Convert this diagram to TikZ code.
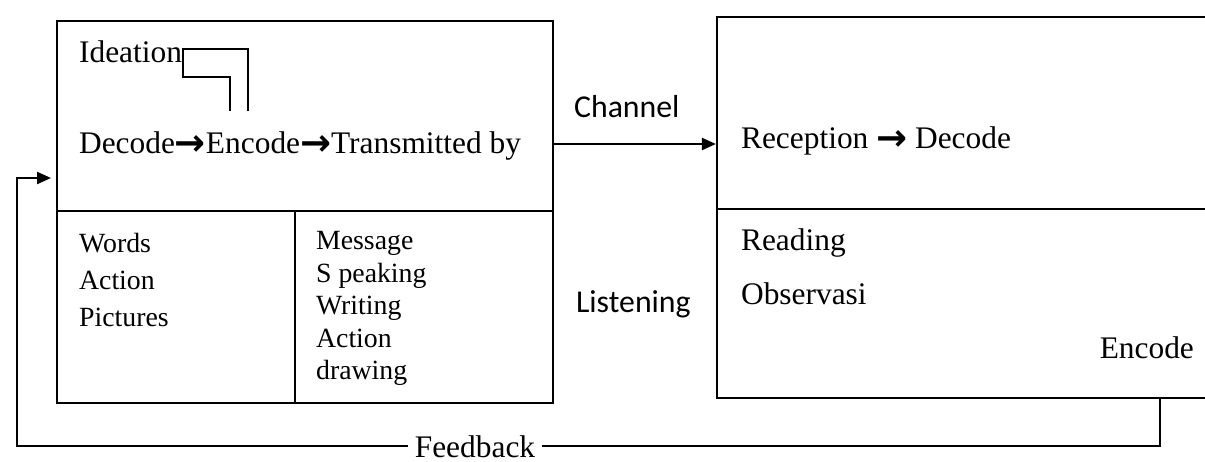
\documentclass[tikz,border=0pt]{standalone}
\usepackage{fontspec}
\setmainfont{Liberation Serif}
\newfontfamily\calib{Carlito}
\newfontfamily\arrfont{DejaVu Sans}
\newcommand\myrarr{\raisebox{-1.2pt}{\arrfont\bfseries\fontsize{18.5}{18}\selectfont →}}
\usetikzlibrary{arrows.meta}
\begin{document}
\begin{tikzpicture}[x=0.5pt,y=-0.5pt,
  line width=1.1pt,
  boxnode/.style={draw, line width=1.1pt, inner sep=0pt, rectangle},
  bigtxt/.style={inner sep=0pt, anchor=base west, font=\fontsize{15.7}{18}\selectfont},
  smalltxt/.style={inner sep=0pt, anchor=base west, font=\fontsize{13.9}{16}\selectfont},
  sanstxt/.style={inner sep=0pt, anchor=base west, font=\calib\fontsize{15.9}{18}\selectfont},
  arr/.style={-{Triangle[length=7pt,width=6pt]}}]
\useasboundingbox (0,0) rectangle (1205,461);
% boxes
\node[boxnode, minimum width=248pt, minimum height=191pt] (L) at (305,212) {};
\node[boxnode, minimum width=250pt, minimum height=190.5pt] (R) at (967,207.5) {};
% dividers
\coordinate (ldiv) at (0,211);
\coordinate (rdiv) at (0,209);
\coordinate (vdiv) at (295,0);
\draw (L.west |- ldiv) -- (L.east |- ldiv);
\draw (vdiv |- ldiv) -- (vdiv |- L.south);
\draw (R.west |- rdiv) -- (R.east |- rdiv);
% ideation bracket
\coordinate (b1) at (183,49);
\coordinate (b2) at (248,49);
\coordinate (b3) at (248,111);
\coordinate (b4) at (183,77);
\coordinate (b5) at (230,77);
\coordinate (b6) at (230,111);
\draw[line width=1.3pt] (b3) -- (b2) -- (b1) -- (b4) -- (b5) -- (b6);
% texts left box
\node[bigtxt] (ideation) at (78,62) {Ideation};
\node[bigtxt] (dec) at (78,153) {Decode\myrarr Encode\myrarr Transmitted by};
\node[smalltxt] (words) at (78,252) {Words};
\node[smalltxt] (action1) at (78,289) {Action};
\node[smalltxt] (pictures) at (78,326) {Pictures};
\node[smalltxt] (message) at (315,249) {Message};
\node[smalltxt] (speaking) at (315,282) {S peaking};
\node[smalltxt] (writing) at (315,314) {Writing};
\node[smalltxt] (action2) at (315,347) {Action};
\node[smalltxt] (drawing) at (315,379) {drawing};
% texts right box
\node[bigtxt] (recep) at (740,148) {Reception \myrarr\ Decode};
\node[bigtxt] (reading) at (740,250) {Reading};
\node[bigtxt] (observ) at (740,304) {Observasi};
\node[bigtxt, anchor=base east] (encode) at (1195,358) {Encode};
% channel
\node[sanstxt] (channel) at (573,117) {Channel};
\node[sanstxt] (listening) at (575,312) {Listening};
\coordinate (chan) at (0,144);
\draw[arr] (L.east |- chan) -- (R.west |- chan);
% feedback
\coordinate (fbx) at (1160,0);
\coordinate (fby) at (0,446);
\coordinate (fbl) at (17,446);
\coordinate (fbt) at (17,178);
\coordinate (fbtip) at (51,178);
\node[bigtxt, anchor=base] (feedback) at (475,457) {Feedback};
\draw (fbx |- R.south) -- (fbx |- fby) -- ([xshift=3pt]feedback.east |- fby);
\draw[arr] ([xshift=-3pt]feedback.west |- fby) -- (fbl) -- (fbt) -- (fbtip);
\end{tikzpicture}
\end{document}
